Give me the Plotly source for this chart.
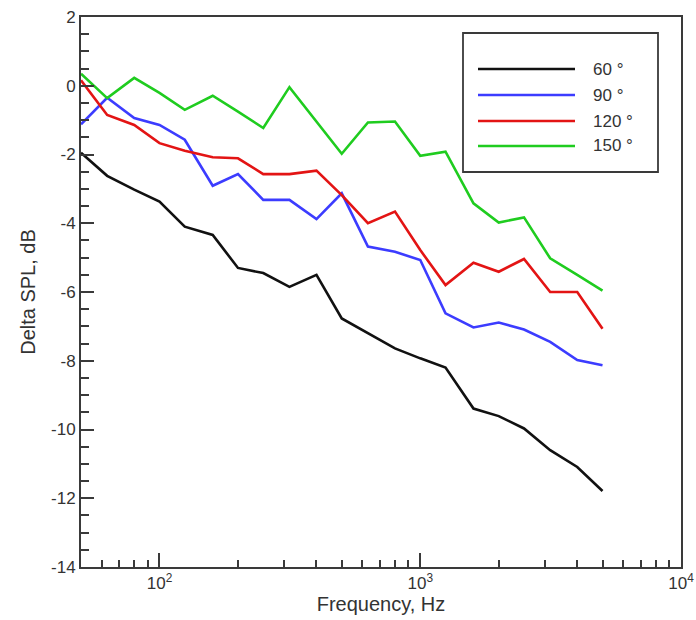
import plotly.graph_objects as go

# One-third octave band centre frequencies (Hz)
freq = [50, 63, 80, 100, 125, 160, 200, 250, 315, 400, 500, 630, 800,
        1000, 1250, 1600, 2000, 2500, 3150, 4000, 5000]

# Delta SPL (dB) per emission angle
spl_60 = [-1.95, -2.62, -3.02, -3.37, -4.10, -4.34, -5.30, -5.45, -5.85, -5.50,
          -6.77, -7.20, -7.64, -7.93, -8.20, -9.39, -9.61, -9.97, -10.60, -11.09, -11.79]
spl_90 = [-1.12, -0.35, -0.94, -1.14, -1.57, -2.91, -2.57, -3.32, -3.32, -3.88,
          -3.13, -4.68, -4.83, -5.07, -6.62, -7.03, -6.89, -7.09, -7.45, -7.98, -8.13]
spl_120 = [0.16, -0.85, -1.14, -1.67, -1.89, -2.08, -2.11, -2.57, -2.57, -2.47,
           -3.18, -4.00, -3.66, -4.78, -5.80, -5.15, -5.41, -5.04, -6.00, -6.00, -7.07]
spl_150 = [0.35, -0.36, 0.23, -0.21, -0.70, -0.29, -0.75, -1.23, -0.04, -1.05,
           -1.98, -1.07, -1.04, -2.04, -1.92, -3.42, -3.98, -3.83, -5.02, -5.50, -5.96]

series_names = ["60 °", "90 °", "120 °", "150 °"]
series_values = [spl_60, spl_90, spl_120, spl_150]
series_colors = ["#111111", "#3c3cff", "#e31414", "#1fcc1f"]

y_ticks = [2, 0, -2, -4, -6, -8, -10, -12, -14]
x_ticks = [100, 1000, 10000]
x_tick_labels = ["10<sup>2</sup>", "10<sup>3</sup>", "10<sup>4</sup>"]

FONT = "Liberation Sans, Arial, Helvetica, sans-serif"
TXT = "#333333"
AXC = "#3a3a3a"

W, H = 696, 620
ML, MR, MT, MB = 81, 15, 17, 53
PW, PH = W - ML - MR, H - MT - MB

fig = go.Figure()
for name, vals, col in zip(series_names, series_values, series_colors):
    fig.add_trace(go.Scatter(x=freq, y=vals, mode="lines", name=name,
                             line=dict(color=col, width=2.6),
                             showlegend=False))

# minor tick positions on the log axis
x_minor = [m * d for d in (10, 100, 1000) for m in range(2, 10) if 50 <= m * d <= 10000]
x_minor = [v for v in x_minor if v not in x_ticks]

fig.update_xaxes(
    type="log", range=[1.69897, 4.0], automargin=False,
    tickmode="array", tickvals=x_ticks, ticktext=x_tick_labels,
    ticks="inside", ticklen=14, tickwidth=1.5, tickcolor=AXC,
    minor=dict(tickmode="array", tickvals=x_minor, ticks="inside",
               ticklen=7, tickwidth=1.5, tickcolor=AXC),
    showline=True, linecolor=AXC, linewidth=2, mirror=True,
    showgrid=False, zeroline=False,
    tickfont=dict(family=FONT, size=17, color=TXT),
    title=dict(text="Frequency, Hz", font=dict(family=FONT, size=20, color=TXT),
               standoff=2),
)
fig.update_yaxes(
    range=[-14, 2], automargin=False,
    tickmode="array", tickvals=y_ticks, ticktext=[str(v) for v in y_ticks],
    ticks="inside", ticklen=13, tickwidth=1.5, tickcolor=AXC,
    minor=dict(dtick=0.5, ticks="inside", ticklen=8, tickwidth=1.5, tickcolor=AXC),
    showline=True, linecolor=AXC, linewidth=2, mirror=True,
    showgrid=False, zeroline=False,
    tickfont=dict(family=FONT, size=17, color=TXT),
    title=dict(text="Delta SPL, dB", font=dict(family=FONT, size=20, color=TXT),
               standoff=10),
)


def px_x(px):
    return (px - ML) / PW


def px_y(py):
    return (H - MB - py) / PH


# legend panel
shapes = [dict(type="rect", xref="paper", yref="paper",
               x0=px_x(463), x1=px_x(658), y0=px_y(172), y1=px_y(33),
               line=dict(color=AXC, width=1.8), fillcolor="white", layer="above")]
annotations = []
row_y = [69, 95, 121, 146]
for name, col, ry in zip(series_names, series_colors, row_y):
    shapes.append(dict(type="line", xref="paper", yref="paper",
                       x0=px_x(478), x1=px_x(575), y0=px_y(ry), y1=px_y(ry),
                       line=dict(color=col, width=2.6), layer="above"))
    annotations.append(dict(xref="paper", yref="paper", x=px_x(591), y=px_y(ry),
                            text=name, showarrow=False, xanchor="left", yanchor="middle",
                            font=dict(family=FONT, size=17, color=TXT)))

fig.update_layout(
    width=W, height=H,
    margin=dict(l=ML, r=MR, t=MT, b=MB),
    paper_bgcolor="white", plot_bgcolor="white",
    shapes=shapes, annotations=annotations,
    showlegend=False,
)

fig.write_html("out.html")
